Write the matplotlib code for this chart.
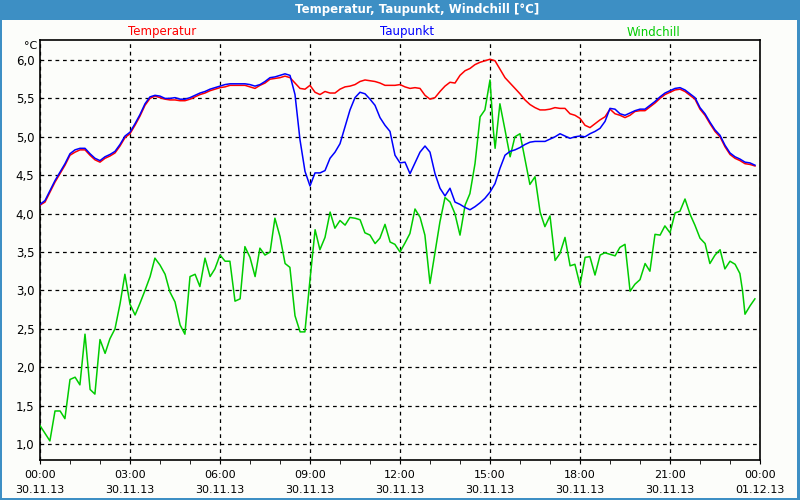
import numpy as np
import matplotlib
matplotlib.use("Agg")
import matplotlib.pyplot as plt
from matplotlib.patches import Rectangle

# ---------------- data ----------------
# 10-minute samples (hours after 30.11.13 00:00)
temp_hours = [k / 6 for k in range(144)]
temperatur = [
    4.11, 4.15, 4.28, 4.41, 4.52, 4.63, 4.76, 4.80, 4.83, 4.83, 4.76, 4.70,
    4.67, 4.72, 4.75, 4.79, 4.88, 4.99, 5.04, 5.15, 5.27, 5.41, 5.50, 5.53,
    5.51, 5.49, 5.48, 5.48, 5.47, 5.47, 5.49, 5.52, 5.55, 5.57, 5.60, 5.62,
    5.64, 5.65, 5.67, 5.67, 5.67, 5.67, 5.65, 5.63, 5.67, 5.70, 5.75, 5.76,
    5.77, 5.79, 5.77, 5.70, 5.63, 5.62, 5.67, 5.58, 5.55, 5.59, 5.57, 5.57,
    5.62, 5.65, 5.66, 5.68, 5.72, 5.74, 5.73, 5.72, 5.70, 5.67, 5.67, 5.67,
    5.68, 5.65, 5.63, 5.64, 5.63, 5.54, 5.49, 5.51, 5.59, 5.66, 5.71, 5.70,
    5.80, 5.86, 5.89, 5.94, 5.97, 5.99, 6.01, 5.99, 5.88, 5.77, 5.70, 5.63,
    5.56, 5.48, 5.42, 5.38, 5.35, 5.35, 5.36, 5.38, 5.37, 5.37, 5.30, 5.28,
    5.24, 5.15, 5.12, 5.17, 5.22, 5.26, 5.36, 5.30, 5.28, 5.25, 5.28, 5.33,
    5.34, 5.34, 5.39, 5.44, 5.50, 5.55, 5.58, 5.61, 5.62, 5.59, 5.54, 5.49,
    5.36, 5.28, 5.17, 5.07, 5.00, 4.87, 4.77, 4.72, 4.69, 4.65, 4.64, 4.62,
]
taupunkt = [
    4.12, 4.17, 4.30, 4.43, 4.54, 4.65, 4.78, 4.83, 4.85, 4.85, 4.78, 4.72,
    4.69, 4.74, 4.77, 4.81, 4.90, 5.01, 5.06, 5.17, 5.29, 5.43, 5.52, 5.54,
    5.53, 5.50, 5.50, 5.51, 5.49, 5.49, 5.51, 5.54, 5.57, 5.59, 5.62, 5.64,
    5.66, 5.68, 5.69, 5.69, 5.69, 5.69, 5.68, 5.66, 5.68, 5.72, 5.77, 5.78,
    5.80, 5.82, 5.80, 5.55, 4.96, 4.55, 4.36, 4.53, 4.53, 4.56, 4.72, 4.80,
    4.91, 5.13, 5.35, 5.51, 5.58, 5.56, 5.49, 5.41, 5.25, 5.15, 5.07, 4.76,
    4.66, 4.67, 4.52, 4.66, 4.80, 4.88, 4.80, 4.52, 4.33, 4.23, 4.33, 4.15,
    4.12, 4.08, 4.05, 4.09, 4.14, 4.20, 4.28, 4.39, 4.59, 4.76, 4.81, 4.83,
    4.86, 4.90, 4.93, 4.94, 4.94, 4.94, 4.97, 5.00, 5.04, 5.01, 4.98, 5.00,
    5.01, 5.00, 5.04, 5.07, 5.11, 5.20, 5.37, 5.36, 5.30, 5.28, 5.31, 5.34,
    5.36, 5.36, 5.41, 5.46, 5.52, 5.57, 5.60, 5.63, 5.64, 5.61, 5.56, 5.51,
    5.38, 5.30, 5.19, 5.09, 5.02, 4.89, 4.79, 4.74, 4.71, 4.67, 4.66, 4.63,
]
wind_hours = [
    0.00, 0.33, 0.50, 0.67, 0.83, 1.00, 1.17, 1.33, 1.50, 1.67, 1.83, 2.00,
    2.17, 2.33, 2.50, 2.67, 2.83, 3.00, 3.17, 3.33, 3.50, 3.67, 3.83, 4.00,
    4.17, 4.33, 4.50, 4.67, 4.83, 5.00, 5.17, 5.33, 5.50, 5.67, 5.83, 6.00,
    6.17, 6.33, 6.50, 6.67, 6.83, 7.00, 7.17, 7.33, 7.50, 7.67, 7.83, 8.00,
    8.17, 8.33, 8.50, 8.67, 8.83, 9.00, 9.17, 9.33, 9.50, 9.67, 9.83, 10.00,
    10.17, 10.33, 10.50, 10.67, 10.83, 11.00, 11.17, 11.33, 11.50, 11.67, 11.83, 12.00,
    12.17, 12.33, 12.50, 12.67, 12.83, 13.00, 13.17, 13.33, 13.50, 13.67, 13.83, 14.00,
    14.17, 14.33, 14.50, 14.67, 14.83, 15.00, 15.11, 15.17, 15.33, 15.50, 15.67, 15.83,
    16.00, 16.17, 16.33, 16.50, 16.67, 16.83, 17.00, 17.17, 17.33, 17.50, 17.67, 17.83,
    18.00, 18.17, 18.33, 18.50, 18.67, 18.83, 19.00, 19.17, 19.33, 19.50, 19.67, 19.83,
    20.00, 20.17, 20.33, 20.50, 20.67, 20.83, 21.00, 21.17, 21.33, 21.50, 21.67, 21.83,
    22.00, 22.17, 22.33, 22.50, 22.67, 22.83, 23.00, 23.17, 23.33, 23.42, 23.50, 23.67,
    23.83,
]
windchill = [
    1.24, 1.04, 1.43, 1.43, 1.33, 1.84, 1.87, 1.77, 2.43, 1.71, 1.65, 2.36,
    2.18, 2.37, 2.50, 2.83, 3.21, 2.82, 2.68, 2.83, 3.00, 3.18, 3.42, 3.33,
    3.21, 2.98, 2.85, 2.55, 2.43, 3.18, 3.21, 3.05, 3.42, 3.18, 3.28, 3.46,
    3.38, 3.38, 2.86, 2.89, 3.57, 3.43, 3.18, 3.55, 3.46, 3.50, 3.94, 3.70,
    3.35, 3.30, 2.67, 2.46, 2.46, 3.14, 3.79, 3.53, 3.69, 4.02, 3.81, 3.91,
    3.85, 3.95, 3.94, 3.92, 3.75, 3.72, 3.61, 3.68, 3.86, 3.63, 3.60, 3.50,
    3.62, 3.74, 4.06, 3.95, 3.72, 3.09, 3.50, 3.89, 4.21, 4.15, 4.00, 3.72,
    4.11, 4.26, 4.65, 5.26, 5.35, 5.74, 5.09, 4.85, 5.43, 5.09, 4.74, 5.00,
    5.04, 4.70, 4.38, 4.48, 4.02, 3.83, 3.97, 3.39, 3.48, 3.69, 3.32, 3.34,
    3.07, 3.43, 3.44, 3.20, 3.46, 3.49, 3.47, 3.45, 3.56, 3.60, 2.99, 3.08,
    3.14, 3.35, 3.25, 3.73, 3.72, 3.84, 3.75, 4.01, 4.03, 4.19, 3.99, 3.85,
    3.68, 3.61, 3.35, 3.46, 3.53, 3.28, 3.38, 3.34, 3.22, 2.99, 2.69, 2.80,
    2.89,
]

x_tick_hours = [0, 3, 6, 9, 12, 15, 18, 21, 24]
x_tick_labels = ["00:00\n30.11.13", "03:00\n30.11.13", "06:00\n30.11.13",
                 "09:00\n30.11.13", "12:00\n30.11.13", "15:00\n30.11.13",
                 "18:00\n30.11.13", "21:00\n30.11.13", "00:00\n01.12.13"]
y_ticks = [1.0, 1.5, 2.0, 2.5, 3.0, 3.5, 4.0, 4.5, 5.0, 5.5, 6.0]
y_tick_labels = [f"{v:.1f}".replace(".", ",") for v in y_ticks]

title = "Temperatur, Taupunkt, Windchill [°C]"
series_names = ["Temperatur", "Taupunkt", "Windchill"]

# ---------------- figure ----------------
W, H = 800, 500
bg = "#fcfdfa"
frame = "#3d8fc4"
fig = plt.figure(figsize=(W / 100, H / 100), dpi=100, facecolor=bg)
plt.rcParams["font.family"] = ["DejaVu Sans"]

# frame / title bar
fig.patches.append(Rectangle((0, 1 - 20 / H), 1, 20 / H, transform=fig.transFigure,
                             facecolor=frame, edgecolor="none", zorder=0))
fig.patches.append(Rectangle((0, 0), 2 / W, 1, transform=fig.transFigure,
                             facecolor=frame, edgecolor="none", zorder=0))
fig.patches.append(Rectangle((1 - 3 / W, 0), 3 / W, 1, transform=fig.transFigure,
                             facecolor=frame, edgecolor="none", zorder=0))
fig.patches.append(Rectangle((0, 0), 1, 2 / H, transform=fig.transFigure,
                             facecolor=frame, edgecolor="none", zorder=0))
fig.text(417 / W, 1 - 10 / H, title, color="white", fontsize=8.5, fontweight="bold",
         ha="center", va="center")

ax = fig.add_axes([40 / W, 40 / H, 720 / W, 420 / H])
ax.set_facecolor(bg)

ax.plot(wind_hours, windchill, color="#00cc00", lw=1.1, zorder=3)
ax.plot(temp_hours, temperatur, color="#ff0000", lw=1.1, zorder=4)
ax.plot(temp_hours, taupunkt, color="#0000ff", lw=1.1, zorder=5)

ax.set_xlim(0, 24)
ax.set_ylim(1.0 - 16 / 76.8, 6.0 + 20 / 76.8)

ax.set_xticks(x_tick_hours)
ax.set_xticklabels(x_tick_labels, fontsize=8, linespacing=1.6)
ax.set_xticks(range(0, 25), minor=True)
ax.set_yticks(y_ticks)
ax.set_yticklabels(y_tick_labels, fontsize=8.5)
ax.tick_params(axis="x", which="major", length=3, direction="out", pad=4, color="black")
ax.tick_params(axis="x", which="minor", length=3, direction="out", color="black")
ax.tick_params(axis="y", length=0, pad=4)

ax.grid(True, which="major", color="black", linestyle=(0, (3, 3)), lw=0.9)
ax.set_axisbelow(True)
for s in ax.spines.values():
    s.set_color("black")
    s.set_linewidth(1.2)

# series labels & unit
fig.text(162 / W, 1 - 32 / H, series_names[0], color="#ff0000", fontsize=8.5, ha="center", va="center")
fig.text(407 / W, 1 - 32 / H, series_names[1], color="#0000ff", fontsize=8.5, ha="center", va="center")
fig.text(653 / W, 1 - 32 / H, series_names[2], color="#00cc00", fontsize=8.5, ha="center", va="center")
fig.text(31 / W, 1 - 46 / H, "°C", color="black", fontsize=8, ha="center", va="center")

fig.savefig("out.png", dpi=100, facecolor=bg)
